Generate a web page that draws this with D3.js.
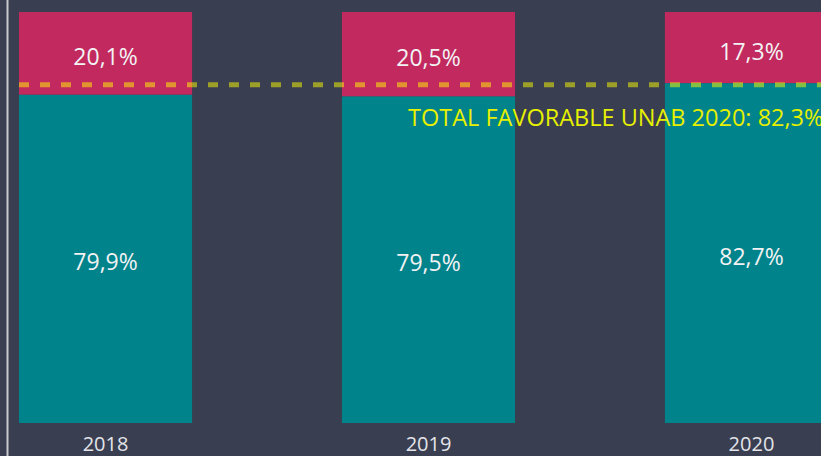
<!DOCTYPE html>
<html>
<head>
<meta charset="utf-8">
<script src="https://cdn.jsdelivr.net/npm/d3@7"></script>
<style>
  body { margin: 0; background: #393e50; }
  svg { display: block; font-family: "Open Sans", "Noto Sans", sans-serif; }
</style>
</head>
<body>
<svg id="main" width="821" height="456"></svg>
<script>
var years = ["2018", "2019", "2020"];
var favorable = [79.9, 79.5, 82.7];
var unfavorable = [20.1, 20.5, 17.3];
var totalFavorable = 82.3;
var totalLabel = "TOTAL FAVORABLE UNAB 2020: 82,3%";

var svg = d3.select("#main"),
    width = +svg.attr("width"),
    height = +svg.attr("height");

var fmt = function(v) { return v.toFixed(1).replace(".", ",") + "%"; };

var xScale = d3.scaleBand()
        .domain(years)
        .range([19, 838])
        .paddingInner(0.464),
    yScale = d3.scaleLinear()
        .domain([0, 100])
        .range([423, 12]);

svg.append("rect")
    .attr("width", width)
    .attr("height", height)
    .attr("fill", "#393e50");

// left border line
svg.append("line")
    .attr("x1", 7.5).attr("x2", 7.5)
    .attr("y1", 0).attr("y2", height)
    .attr("stroke", "#c9cad0")
    .attr("stroke-width", 2);

var data = years.map(function(y, i) {
    return {year: y, fav: favorable[i], unfav: unfavorable[i]};
});

var bars = svg.append("g").selectAll("g")
    .data(data)
    .join("g");

bars.append("rect")
    .attr("x", function(d) { return xScale(d.year); })
    .attr("width", xScale.bandwidth())
    .attr("y", function(d) { return yScale(d.fav); })
    .attr("height", function(d) { return yScale(0) - yScale(d.fav); })
    .attr("fill", "#00838a");

bars.append("rect")
    .attr("x", function(d) { return xScale(d.year); })
    .attr("width", xScale.bandwidth())
    .attr("y", function(d) { return yScale(d.fav + d.unfav); })
    .attr("height", function(d) { return yScale(d.fav) - yScale(d.fav + d.unfav); })
    .attr("fill", "#c2295e");

bars.append("text")
    .attr("x", function(d) { return xScale(d.year) + xScale.bandwidth() / 2; })
    .attr("y", function(d) { return (yScale(0) + yScale(d.fav)) / 2; })
    .attr("dy", "0.5em")
    .attr("text-anchor", "middle")
    .attr("fill", "#f2f2f4")
    .style("font-size", "23px")
    .text(function(d) { return fmt(d.fav); });

bars.append("text")
    .attr("x", function(d) { return xScale(d.year) + xScale.bandwidth() / 2; })
    .attr("y", function(d) { return (yScale(d.fav) + yScale(d.fav + d.unfav)) / 2; })
    .attr("dy", "0.53em")
    .attr("text-anchor", "middle")
    .attr("fill", "#f2f2f4")
    .style("font-size", "23px")
    .text(function(d) { return fmt(d.unfav); });

// total favorable line
svg.append("line")
    .attr("x1", 19).attr("x2", width)
    .attr("y1", yScale(totalFavorable))
    .attr("y2", yScale(totalFavorable))
    .attr("stroke", "#ffff00")
    .attr("stroke-opacity", 0.5)
    .attr("stroke-width", 5)
    .attr("stroke-dasharray", "10,11");

svg.append("text")
    .attr("x", 408)
    .attr("y", yScale(totalFavorable) + 41)
    .attr("fill", "#e6f000")
    .style("font-size", "23.5px")
    .text(totalLabel);

var xAxis = svg.append("g")
    .attr("transform", "translate(0," + 423 + ")")
    .call(d3.axisBottom(xScale).tickSize(0).tickPadding(14));

xAxis.select(".domain").remove();
xAxis.selectAll("text")
    .attr("fill", "#e4e5ea")
    .style("font-size", "20px")
    .style("font-family", "\"Open Sans\", \"Noto Sans\", sans-serif");
</script>
</body>
</html>
